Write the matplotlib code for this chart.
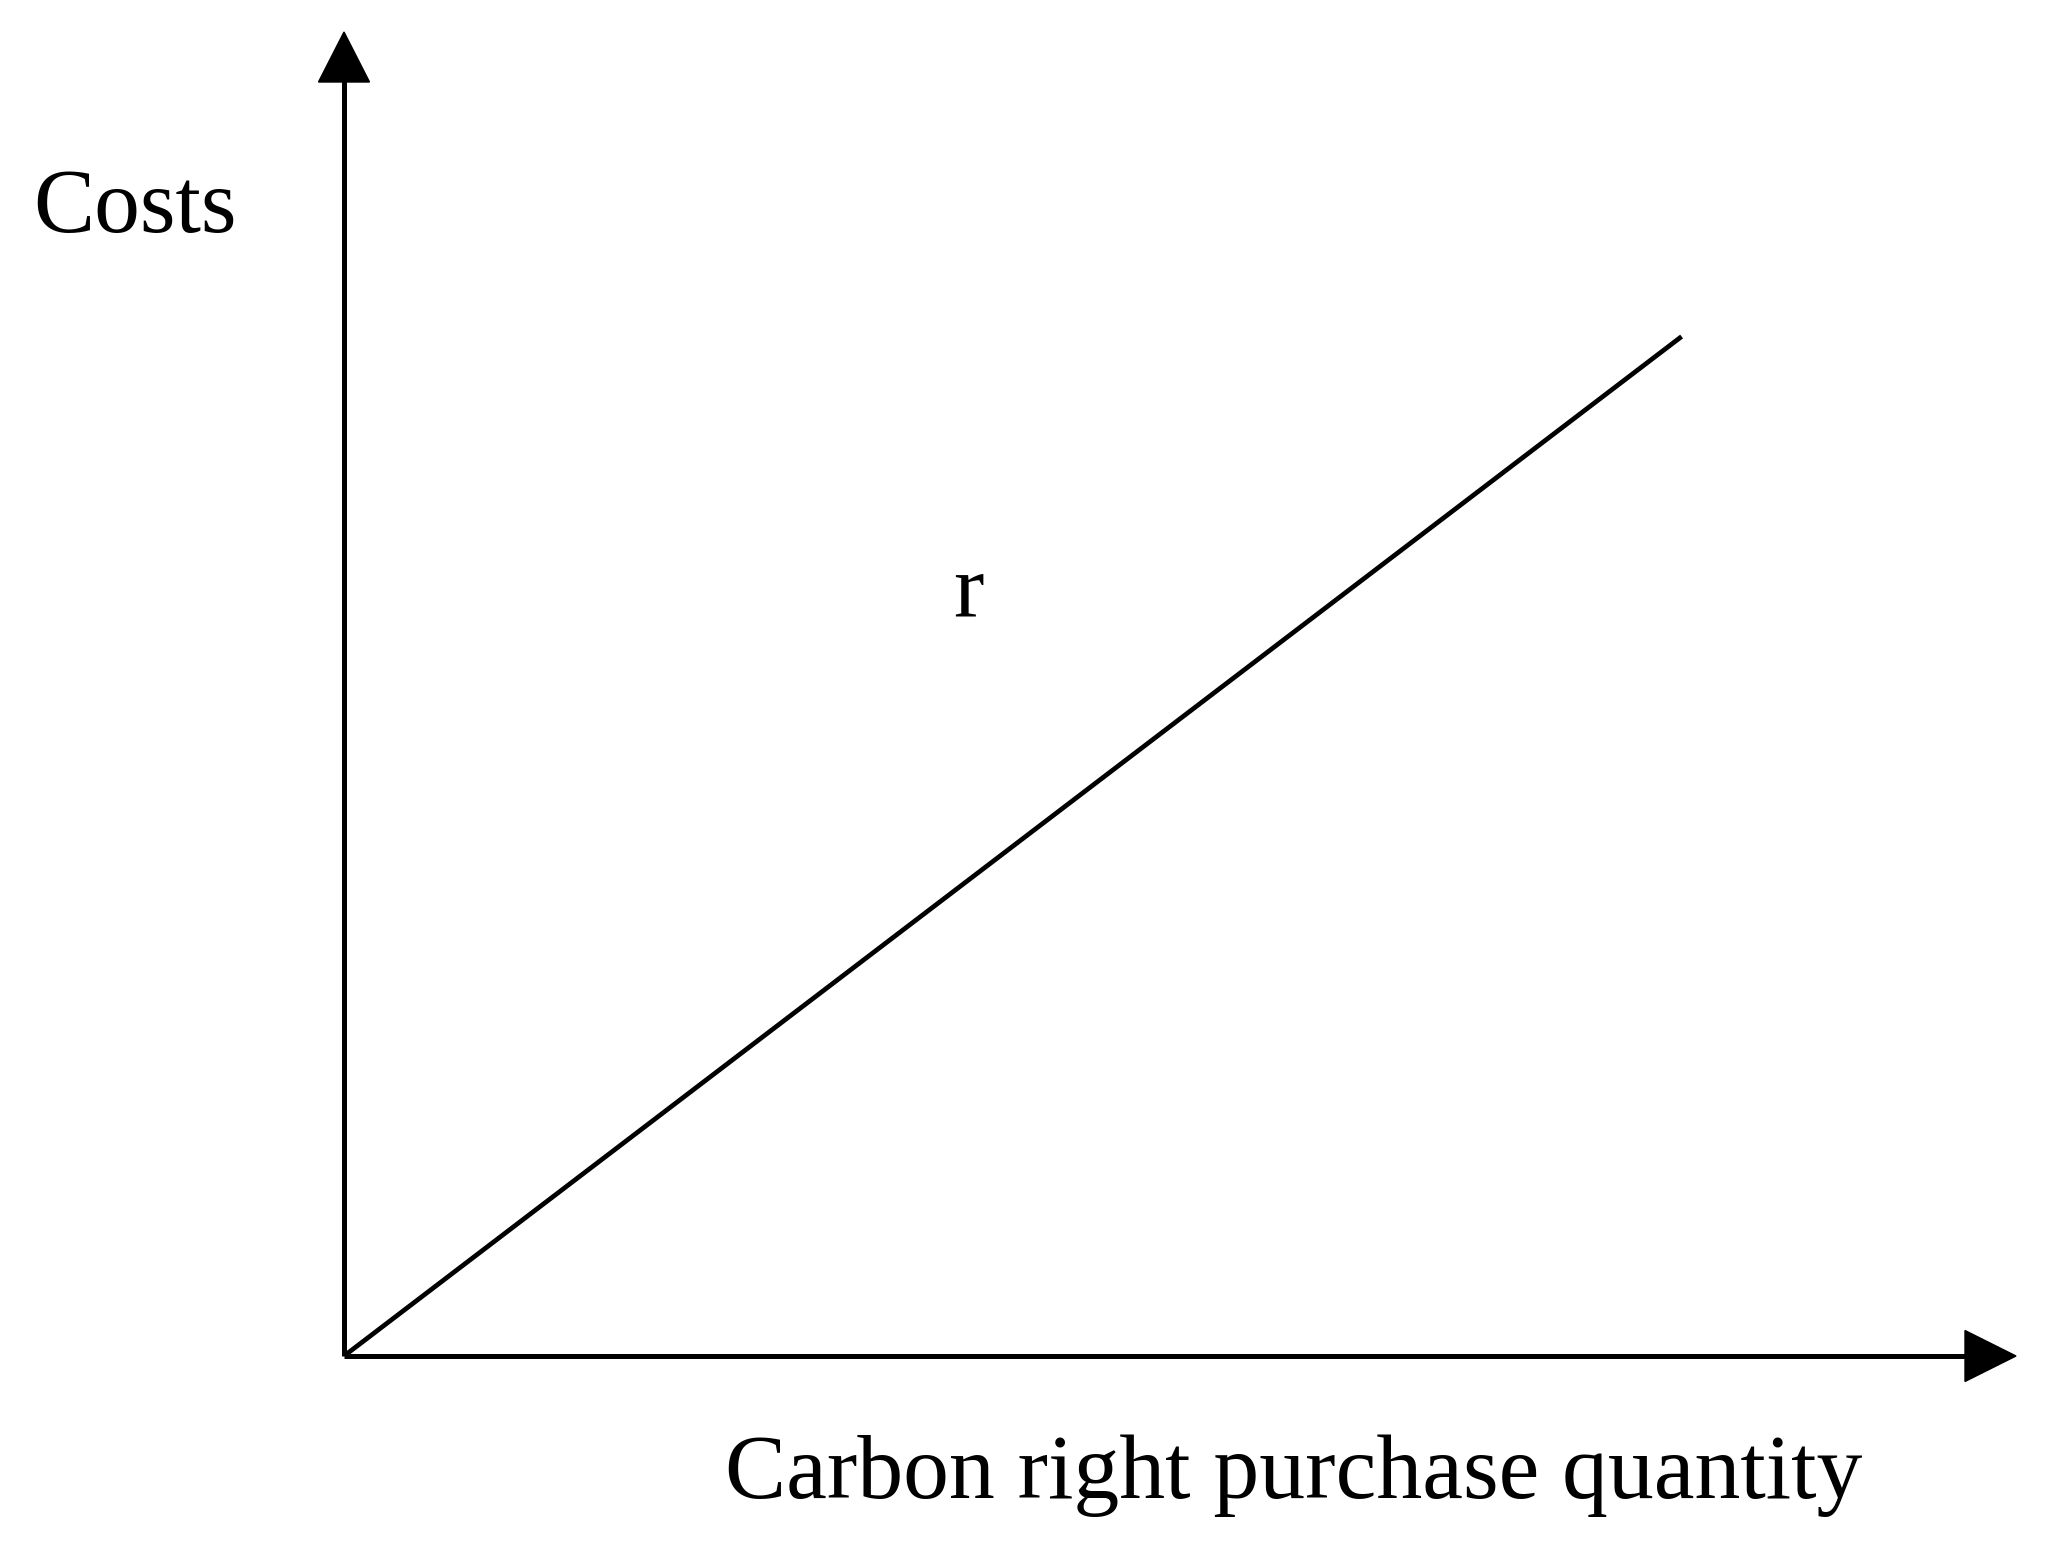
import matplotlib
matplotlib.use("Agg")
import matplotlib.pyplot as plt
from matplotlib.patches import Polygon

# Data (conceptual linear cost curve)
quantity = [0.0, 0.80]
costs = [0.0, 0.77]
x_label = "Carbon right purchase quantity"
y_label = "Costs"
line_label = "r"

W, H = 2056, 1558
fig = plt.figure(figsize=(W / 100, H / 100), dpi=100)
fig.patch.set_facecolor("white")

# axes: origin at pixel (344,1356), top at y=32, right at x=2016
left, right, top, bottom = 344, 2016, 32, 1356
ax = fig.add_axes([left / W, 1 - bottom / H, (right - left) / W, (bottom - top) / H])
ax.set_xlim(0, 1)
ax.set_ylim(0, 1)
ax.axis("off")

lw = 3.6
# axis shafts
ax.plot([0, 0], [0, 0.965], color="black", lw=lw, solid_capstyle="butt", clip_on=False)
ax.plot([0, 0.97], [0, 0], color="black", lw=lw, solid_capstyle="butt", clip_on=False)
# arrowheads
hw_x = 25.5 / (right - left)
hl_y = 50 / (bottom - top)
ax.add_patch(Polygon([[0, 1], [-hw_x, 1 - hl_y], [hw_x, 1 - hl_y]], closed=True,
                     color="black", transform=ax.transAxes, clip_on=False))
hw_y = 25.5 / (bottom - top)
hl_x = 51 / (right - left)
ax.add_patch(Polygon([[1, 0], [1 - hl_x, hw_y], [1 - hl_x, -hw_y]], closed=True,
                     color="black", transform=ax.transAxes, clip_on=False))

# the cost line
ax.plot(quantity, costs, color="black", lw=3.4, solid_capstyle="butt")

font = "Liberation Serif"
fs = 66
fig.text(33 / W, 1 - 232 / H, y_label, fontsize=fs, family=font, ha="left", va="baseline")
fig.text(725 / W, 1 - 1498 / H, x_label, fontsize=fs, family=font, ha="left", va="baseline")
fig.text(968 / W, 1 - 616 / H, line_label, fontsize=fs, family=font, ha="center", va="baseline")

fig.savefig("out.png", dpi=100)
